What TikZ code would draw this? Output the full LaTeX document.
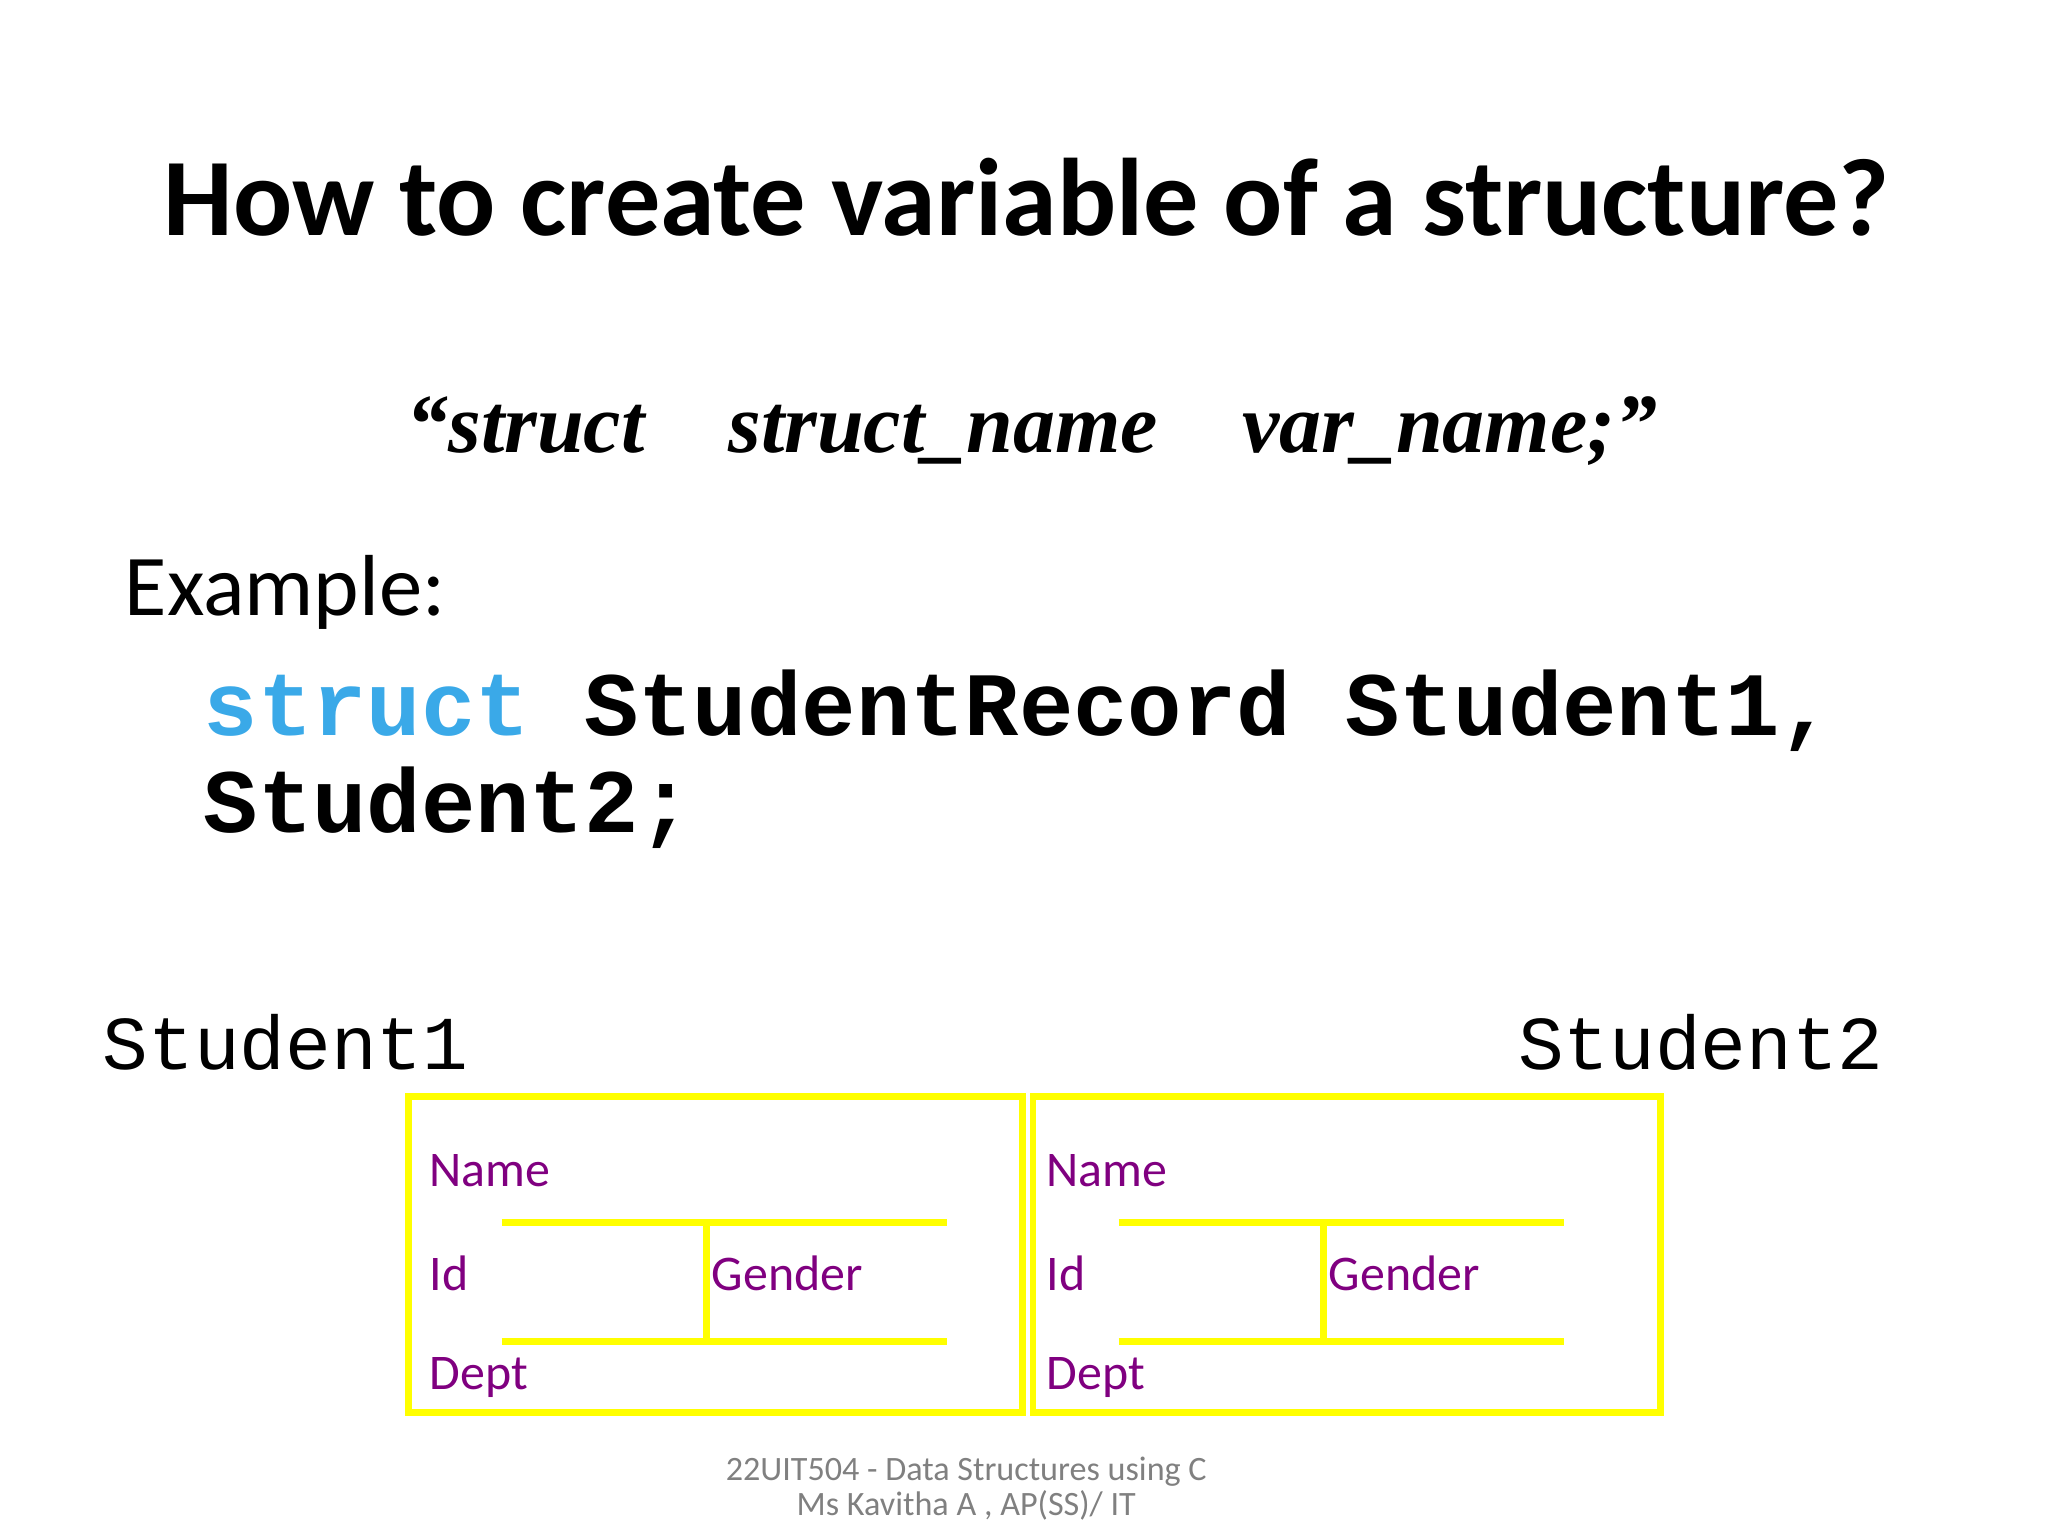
\documentclass[tikz,border=0pt]{standalone}
\usepackage{fontspec}
\setmainfont{Carlito}
\newfontfamily\serifit{Liberation Serif}
\newfontfamily\mono{Liberation Mono}
\definecolor{kw}{HTML}{3AA9E8}
\definecolor{lab}{HTML}{800080}
\definecolor{yel}{HTML}{FFFF00}
\begin{document}
\begin{tikzpicture}[x=1pt,y=-1pt,
  box/.style={draw=yel,line width=5pt},
  lbl/.style={anchor=west,text=lab,font=\fontsize{38}{42}\selectfont,inner sep=0pt}]
\useasboundingbox (0,0) rectangle (1560,1170);
\node (title) at (782,150) {\fontsize{84}{88}\selectfont\bfseries How to create variable of a structure?};
\node (syn) at (786,328) {\serifit\bfseries\itshape\fontsize{64}{70}\selectfont “struct\quad struct\_name\quad var\_name;”};
\node[anchor=west,inner sep=0pt] (ex) at (95,451) {\fontsize{66}{70}\selectfont Example:};
\node[anchor=west,inner sep=0pt] (c1) at (155,541) {\mono\bfseries\fontsize{69}{72}\selectfont\textcolor{kw}{struct} StudentRecord Student1,};
\node[anchor=west,inner sep=0pt] (c2) at (155,615) {\mono\bfseries\fontsize{69}{72}\selectfont Student2;};
\node[anchor=west,inner sep=0pt] (s1) at (78,794) {\mono\fontsize{58}{60}\selectfont Student1};
\node[anchor=east,inner sep=0pt] (s2) at (1435,794) {\mono\fontsize{58}{60}\selectfont Student2};
\foreach \o/\l/\r/\n in {0/311/779/a,470/787/1265/b}{
  \draw[box] (\l,835) rectangle (\r,1076);
  \draw[box] (382+\o,931) -- (721+\o,931);
  \draw[box] (382+\o,1022) -- (721+\o,1022);
  \draw[box] (538+\o,931) -- (538+\o,1022);
  \node[lbl] (name\n) at (327+\o,892) {Name};
  \node[lbl] (id\n) at (327+\o,970) {Id};
  \node[lbl] (gen\n) at (542+\o,970) {Gender};
  \node[lbl] (dept\n) at (327+\o,1049) {Dept};
}
\node[align=center,text=gray,font=\fontsize{26}{27}\selectfont] (foot) at (736,1134) {22UIT504 - Data Structures using C\\Ms Kavitha A , AP(SS)/ IT};
\end{tikzpicture}
\end{document}
